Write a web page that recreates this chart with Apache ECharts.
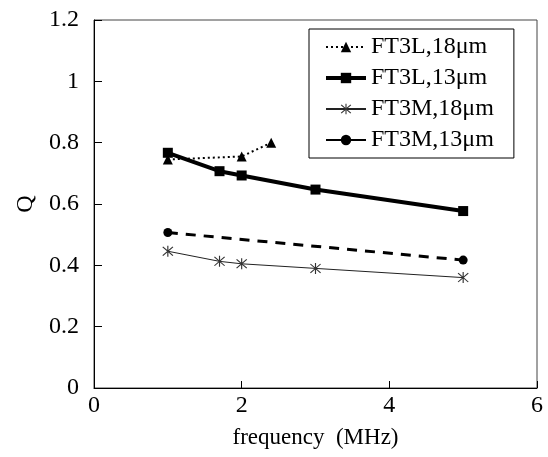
<!DOCTYPE html>
<html>
<head>
<meta charset="utf-8">
<script src="https://cdn.jsdelivr.net/npm/echarts@6/dist/echarts.min.js"></script>
<style>
  html, body { margin: 0; padding: 0; background: #fff; }
  #chart { width: 548px; height: 457px; }
</style>
</head>
<body>
<div id="chart"></div>
<script>
// series data: [frequency MHz, Q]
const ft3l18 = [[1, 0.745], [2, 0.755], [2.4, 0.80]];
const ft3l13 = [[1, 0.767], [1.7, 0.707], [2, 0.693], [3, 0.647], [5, 0.577]];
const ft3m18 = [[1, 0.446], [1.7, 0.413], [2, 0.405], [3, 0.39], [5, 0.36]];
const ft3m13 = [[1, 0.507], [5, 0.417]];
const seriesNames = ['FT3L,18μm', 'FT3L,13μm', 'FT3M,18μm', 'FT3M,13μm'];

const FONT = '"Liberation Serif", "Times New Roman", serif';

// asterisk marker: vertical bar plus two diagonals
const ASTERISK = 'path://M9.1,0L10.9,0L10.9,20L9.1,20Z' +
  'M1.36,2.64L2.64,1.36L18.64,17.36L17.36,18.64Z' +
  'M17.36,1.36L18.64,2.64L2.64,18.64L1.36,17.36Z';

(function() {
  const chart = echarts.init(document.getElementById('chart'));

  const axisText = { color: '#000', fontFamily: FONT, fontSize: 24 };

  const option = {
    animation: false,
    backgroundColor: '#fff',
    textStyle: { fontFamily: FONT, color: '#000' },
    grid: {
      left: 94, right: 11, top: 20, bottom: 69,
      show: true, borderColor: '#444', borderWidth: 1
    },
    legend: {
      orient: 'vertical',
      left: 309, top: 29,
      padding: [6, 20, 6, 15],
      itemWidth: 40, itemHeight: 13, itemGap: 7,
      borderColor: '#000', borderWidth: 1,
      textStyle: { fontFamily: FONT, fontSize: 24, color: '#000' },
      data: [
        { name: seriesNames[0] },
        { name: seriesNames[1], lineStyle: { width: 4 } },
        { name: seriesNames[2] },
        { name: seriesNames[3], lineStyle: { type: 'solid', width: 2 } }
      ]
    },
    xAxis: {
      type: 'value', min: 0, max: 6, interval: 2,
      name: 'frequency  (MHz)', nameLocation: 'middle', nameGap: 38,
      nameTextStyle: { fontFamily: FONT, fontSize: 23, color: '#000' },
      axisLine: { lineStyle: { color: '#000', width: 1 } },
      axisTick: { show: true, inside: true, length: 7, lineStyle: { color: '#000', width: 1 } },
      axisLabel: Object.assign({ margin: 6 }, axisText),
      splitLine: { show: false }
    },
    yAxis: {
      type: 'value', min: 0, max: 1.2, interval: 0.2,
      name: 'Q', nameLocation: 'middle', nameGap: 56, nameRotate: 90,
      nameTextStyle: { fontFamily: FONT, fontSize: 24, color: '#000' },
      axisLine: { show: true, lineStyle: { color: '#000', width: 1 } },
      axisTick: { show: true, inside: true, length: 8, lineStyle: { color: '#000', width: 1 } },
      axisLabel: Object.assign({ margin: 15 }, axisText),
      splitLine: { show: false }
    },
    series: [
      {
        name: seriesNames[0], type: 'line', data: ft3l18,
        symbol: 'triangle', symbolSize: 10,
        lineStyle: { color: '#000', width: 2, type: [2, 3] },
        itemStyle: { color: '#000' }
      },
      {
        name: seriesNames[1], type: 'line', data: ft3l13,
        symbol: 'rect', symbolSize: 10,
        lineStyle: { color: '#000', width: 4 },
        itemStyle: { color: '#000' }
      },
      {
        name: seriesNames[2], type: 'line', data: ft3m18,
        symbol: ASTERISK, symbolSize: 11,
        lineStyle: { color: '#222', width: 1 },
        itemStyle: { color: '#333' }
      },
      {
        name: seriesNames[3], type: 'line', data: ft3m13,
        symbol: 'circle', symbolSize: 9,
        lineStyle: { color: '#000', width: 3, type: [10, 8] },
        itemStyle: { color: '#000' }
      }
    ]
  };

  chart.setOption(option);
})();
</script>
</body>
</html>
